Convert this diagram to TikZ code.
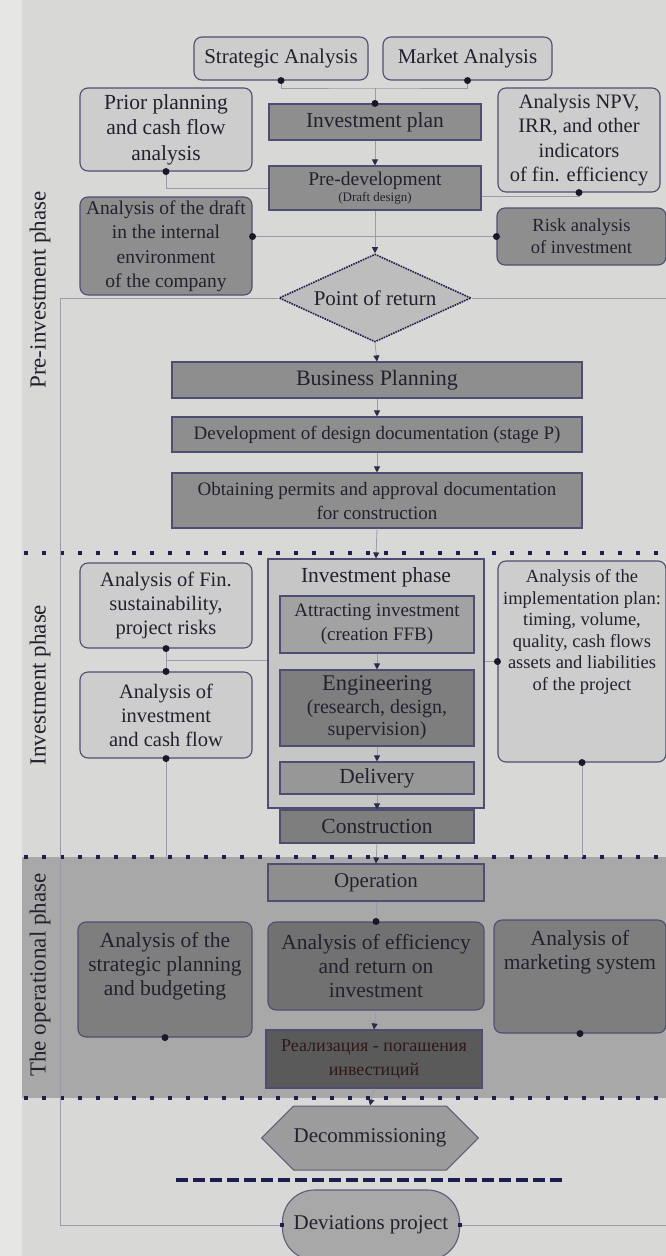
\documentclass[tikz,border=0pt]{standalone}
\usepackage{fontspec}
\setmainfont{Liberation Serif}
\usetikzlibrary{arrows.meta,shapes.geometric,shapes.symbols,calc}
\definecolor{bgc}{HTML}{D8D8D6}
\definecolor{leftc}{HTML}{E6E6E4}
\definecolor{bandc}{HTML}{A8A8A8}
\definecolor{lightc}{HTML}{CDCDCD}
\definecolor{darkc}{HTML}{8E8E8E}
\definecolor{deepc}{HTML}{7E7E7E}
\definecolor{framec}{HTML}{C6C6C6}
\definecolor{realc}{HTML}{5A5A5A}
\definecolor{bordc}{HTML}{4E4E72}
\definecolor{txtc}{HTML}{22222E}
\definecolor{connc}{HTML}{9A9AAA}
\definecolor{tipc}{HTML}{2A2A4A}
\definecolor{dotc}{HTML}{18182A}
\definecolor{navyc}{HTML}{1E1E4E}
\definecolor{porc}{HTML}{BDBDBD}
\definecolor{realtxt}{HTML}{2E1818}
\definecolor{attc}{HTML}{A2A2A2}
\definecolor{decc}{HTML}{9C9C9C}
\newcommand{\setfs}[2]{\fontsize{#1}{#2}\selectfont}
\begin{document}
\begin{tikzpicture}[x=1pt,y=-1pt,
  box/.style={draw=bordc, line width=1.1pt, text=txtc, align=center, inner sep=2pt},
  lbox/.style={box, fill=lightc, rounded corners=8pt},
  dbox/.style={box, fill=darkc},
  rdbox/.style={box, fill=deepc, rounded corners=8pt},
  conn/.style={draw=connc, line width=0.8pt},
  arr/.style={conn, -{Triangle[width=6pt,length=6pt,color=tipc]}},
  sepline/.style={draw=navyc, line width=4pt, dash pattern=on 4pt off 14pt},
  plabel/.style={rotate=90, text=txtc, font=\setfs{23}{27}},
  ttext/.style={text=txtc, align=center}
]
\path[use as bounding box] (0,0) rectangle (666,1256);
\fill[bgc] (0,0) rectangle (666,1256);
\fill[leftc] (0,0) rectangle (22,1256);
\fill[bandc] (22,857) rectangle (666,1098);

% phase labels
\node[plabel] (ph1) at (40,290) {Pre-investment phase};
\node[plabel] (ph2) at (40,685) {Investment phase};
\node[plabel] (ph3) at (40,975) {The operational phase};

% ---------- pre-investment ----------
\node[lbox, minimum width=174pt, minimum height=43pt, font=\setfs{21}{25}] (strat) at (281,58.5) {Strategic Analysis};
\node[lbox, minimum width=169pt, minimum height=43pt, font=\setfs{21}{25}] (market) at (467.5,58.5) {Market Analysis};
\node[lbox, minimum width=172pt, minimum height=83pt, font=\setfs{21.5}{25.5}] (prior) at (166,129.5) {Prior planning\\and cash flow\\analysis};
\node[lbox, minimum width=162pt, minimum height=104pt, font=\setfs{20.5}{24.5}] (npv) at (579,140) {Analysis NPV,\\IRR, and other\\indicators\\of fin. efficiency};
\node[dbox, minimum width=212pt, minimum height=36pt, font=\setfs{21.5}{25}] (invplan) at (375,122) {Investment plan};
\node[dbox, minimum width=212pt, minimum height=44pt, font=\setfs{19.5}{18}] (predev) at (375,188) {Pre-development\\[-2pt]{\setfs{13}{13}(Draft design)}};
\node[rdbox, fill=darkc, minimum width=172pt, minimum height=98pt, font=\setfs{19.5}{24.5}] (draft) at (166,246) {Analysis of the draft\\in the internal\\environment\\of the company};
\node[rdbox, fill=darkc, minimum width=169pt, minimum height=57pt, font=\setfs{18.5}{22}] (risk) at (581.5,236.5) {Risk analysis\\of investment};
\node[diamond, draw=navyc, densely dotted, line width=1.6pt, fill=porc, text=txtc,
      minimum width=192pt, minimum height=88pt, inner sep=0pt, aspect=2.2, font=\setfs{21}{25}] (por) at (375,298) {Point of return};
\node[dbox, minimum width=410pt, minimum height=36pt, font=\setfs{22}{25}] (bp) at (377,380) {Business Planning};
\node[dbox, minimum width=410pt, minimum height=35pt, font=\setfs{19}{23}] (dd) at (377,434.5) {Development of design documentation (stage P)};
\node[dbox, minimum width=410pt, minimum height=55pt, font=\setfs{19}{24}] (obt) at (377,500.5) {Obtaining permits and approval documentation\\for construction};

% ---------- investment ----------
\node[lbox, minimum width=172pt, minimum height=85pt, font=\setfs{20.5}{24}] (fin) at (166,605.5) {Analysis of Fin.\\sustainability,\\project risks};
\node[lbox, minimum width=172pt, minimum height=86pt, font=\setfs{20.5}{24}] (invcf) at (166,715) {Analysis of\\investment\\and cash flow};
\node[box, fill=framec, minimum width=216pt, minimum height=249pt] (invframe) at (376,683.5) {};
\node[ttext, font=\setfs{21.5}{25}] (invtitle) at (376,577) {Investment phase};
\node[box, fill=attc, minimum width=194pt, minimum height=57pt, font=\setfs{19}{24}] (attract) at (377,624.5) {Attracting investment\\(creation FFB)};
\node[box, fill=deepc, minimum width=194pt, minimum height=76pt, font=\setfs{20}{22.5}] (eng) at (377,708) {{\setfs{22.5}{24}Engineering}\\(research, design,\\supervision)};
\node[box, fill=darkc!85!lightc, minimum width=194pt, minimum height=32pt, font=\setfs{21.5}{25}] (deliv) at (377,778) {Delivery};
\node[box, fill=deepc, minimum width=194pt, minimum height=33pt, font=\setfs{21.5}{25}] (constr) at (377,826.5) {Construction};
\node[lbox, minimum width=168pt, minimum height=201pt] (impl) at (582,661.5) {};
\node[ttext, font=\setfs{18.5}{21.5}] (impltxt) at (582,632) {Analysis of the\\implementation plan:\\timing, volume,\\quality, cash flows\\assets and liabilities\\of the project};

% ---------- operational ----------
\node[dbox, minimum width=216pt, minimum height=37pt, font=\setfs{21}{25}] (oper) at (376,882.5) {Operation};
\node[rdbox, minimum width=174pt, minimum height=115pt] (strat2) at (165,979.5) {};
\node[ttext, font=\setfs{21.5}{24}] (strat2txt) at (165,966) {Analysis of the\\strategic planning\\and budgeting};
\node[rdbox, fill=deepc!90!black, minimum width=216pt, minimum height=88pt, font=\setfs{21.5}{24}] (eff) at (376,966) {Analysis of efficiency\\and return on\\investment};
\node[rdbox, minimum width=172pt, minimum height=113pt] (mkt) at (580,976.5) {};
\node[ttext, font=\setfs{21.5}{23.5}] (mkttxt) at (580,952) {Analysis of\\marketing system};
\node[box, fill=realc, text=realtxt, minimum width=216pt, minimum height=58pt, font=\setfs{18}{24}] (real) at (374,1059) {Реализация - погашения\\инвестиций};

% ---------- bottom ----------
\node[signal, signal to=east and west, draw=bordc!70!gray, line width=1pt, fill=decc, text=txtc,
      minimum width=202pt, minimum height=64pt, inner sep=0pt, font=\setfs{21}{25}] (decom) at (370,1138) {Decommissioning};
\node[box, draw=bordc!70!gray, fill=bandc, rounded corners=32pt, minimum width=177pt, minimum height=70pt, font=\setfs{21}{25}] (dev) at (371,1225) {Deviations project};

% separators
\draw[sepline] (24,553) -- (666,553);
\draw[sepline] (24,857) -- (666,857);
\draw[sepline] (24,1098) -- (666,1098);
\draw[navyc, line width=4pt, dash pattern=on 12pt off 5pt] (176,1180) -- (565,1180);

% ---------- connectors ----------
\coordinate (j1) at (375,88);
\draw[conn] (strat.south) |- (j1) -| (market.south);
\draw[conn] (j1) -- (invplan.north);
\draw[arr] (invplan.south) -- (predev.north);
\draw[conn] (prior.south) |- (predev.west);
\draw[conn] (npv.south) |- ([yshift=-8pt]predev.east);
\draw[conn] (draft.east |- risk.west) -- (risk.west);
\draw[arr] (predev.south) -- (por.north);
\coordinate (fl1) at (60,298);
\coordinate (fl2) at (60,1225);
\coordinate (fr1) at (666,298);
\coordinate (fr2) at (666,1225);
\draw[conn] (por.west) -- (fl1) -- (fl2) -- (dev.west);
\draw[conn] (por.east) -- (fr1);
\draw[conn] (dev.east) -- (fr2);
\draw[arr] (por.south) -- (bp.north);
\draw[arr] (bp.south) -- (dd.north);
\draw[arr] (dd.south) -- (obt.north);
\draw[arr] (obt.south) -- (invframe.north);

\coordinate (jm) at ($(fin.south)!0.5!(invcf.north)$);
\draw[conn] (fin.south) -- (invcf.north);
\draw[conn] (jm) -- (jm -| invframe.west);
\draw[conn] (impl.west) -- (impl.west -| invframe.east);
\coordinate (b1) at (166,857);
\coordinate (b2) at (582,857);
\draw[conn] (invcf.south) -- (b1);
\draw[conn] (impl.south) -- (b2);
\draw[arr] (attract.south) -- (eng.north);
\draw[arr] (eng.south) -- (deliv.north);
\draw[arr] (deliv.south) -- (constr.north);
\draw[arr] (constr.south) -- (oper.north);
\draw[conn] (oper.south) -- (eff.north);
\draw[arr] (eff.south) -- (real.north);
\draw[arr] (real.south) -- (decom.north);

% dots
\foreach \p in {strat.south, market.south, invplan.north, prior.south, npv.south, risk.west,
                fin.south, invcf.north, invcf.south, impl.west, impl.south,
                eff.north, strat2.south, mkt.south}
  \fill[dotc] (\p) circle (3.5pt);
\fill[dotc] (draft.east |- risk.west) circle (3.5pt);
\fill[navyc] ([xshift=-2pt,yshift=-2pt]dev.west) rectangle ++(4,-4);
\fill[navyc] ([xshift=-2pt,yshift=-2pt]dev.east) rectangle ++(4,-4);
\end{tikzpicture}
\end{document}
